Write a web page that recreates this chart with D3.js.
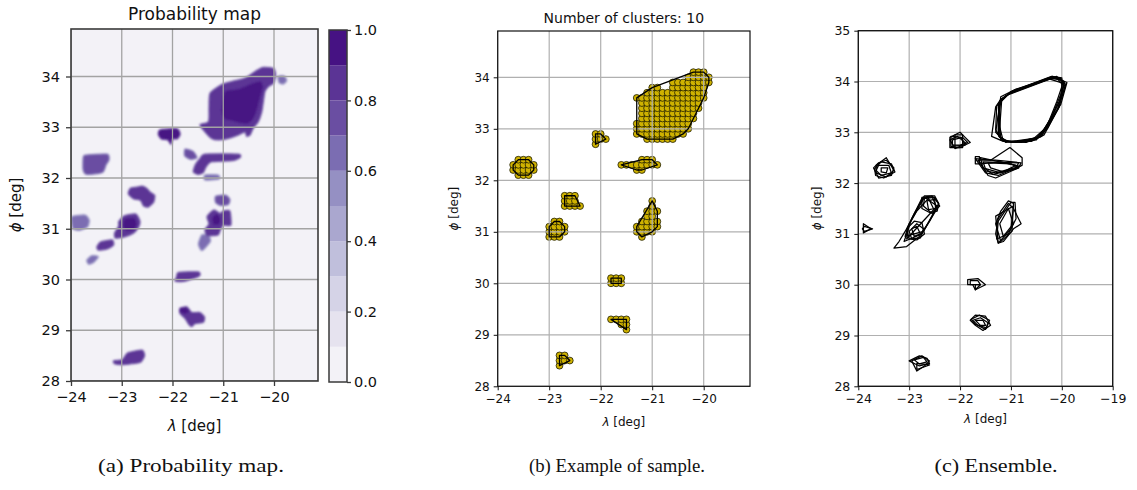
<!DOCTYPE html>
<html>
<head>
<meta charset="utf-8">
<script src="https://cdn.jsdelivr.net/npm/d3@7"></script>
<style>
  body { margin: 0; background: #fff; }
  svg { display: block; }
  text { font-family: "DejaVu Sans", sans-serif; }
</style>
</head>
<body>
<svg id="fig" width="1137" height="490"></svg>
<script>
// ---------- axis ticks ----------
const lonTicksAB = [-24, -23, -22, -21, -20];
const lonTicksC = [-24, -23, -22, -21, -20, -19];
const latTicksAB = [28, 29, 30, 31, 32, 33, 34];
const latTicksC = [28, 29, 30, 31, 32, 33, 34, 35];
const cbTicks = [0, 0.2, 0.4, 0.6, 0.8, 1.0];
const probLevels = [0, 0.1, 0.2, 0.3, 0.4, 0.5, 0.6, 0.7, 0.8, 0.9, 1.0];

// ---------- (a) probability regions: [lon, lat] rings with their probability ----------
const probRegions = [
  { p: 0.85, ring: [[-21.26,33.67],[-21.03,33.84],[-20.83,33.90],[-20.57,33.97],[-20.37,34.10],[-20.21,34.18],[-20.01,34.16],[-19.97,34.03],[-20.01,33.87],[-20.11,33.80],[-20.18,33.70],[-20.21,33.51],[-20.24,33.31],[-20.31,33.11],[-20.41,32.98],[-20.47,32.85],[-20.54,32.82],[-20.57,32.91],[-20.70,32.85],[-20.90,32.78],[-21.10,32.75],[-21.23,32.78],[-21.36,32.91],[-21.46,33.05],[-21.29,33.11],[-21.28,33.38]] },
  { p: 0.95, ring: [[-20.96,33.72],[-20.70,33.76],[-20.44,33.87],[-20.26,33.91],[-20.21,33.80],[-20.26,33.61],[-20.32,33.38],[-20.39,33.18],[-20.50,33.07],[-20.64,33.07],[-20.83,33.12],[-20.98,33.16],[-21.04,33.31],[-21.02,33.54]] },
  { p: 0.65, ring: [[-19.92,34.00],[-19.80,34.01],[-19.75,33.92],[-19.82,33.85],[-19.90,33.88]] },
  { p: 0.95, ring: [[-22.24,32.95],[-21.91,32.97],[-21.85,32.86],[-21.91,32.77],[-22.00,32.77],[-22.03,32.66],[-22.09,32.75],[-22.22,32.77],[-22.28,32.86]] },
  { p: 0.75, ring: [[-23.72,32.45],[-23.29,32.47],[-23.25,32.36],[-23.31,32.26],[-23.38,32.11],[-23.69,32.07],[-23.76,32.16],[-23.76,32.39]] },
  { p: 0.75, ring: [[-21.75,32.57],[-21.59,32.52],[-21.52,32.40],[-21.65,32.37],[-21.76,32.44]] },
  { p: 0.85, ring: [[-21.36,32.47],[-20.70,32.47],[-20.67,32.40],[-20.83,32.34],[-21.23,32.32],[-21.34,32.22],[-21.39,32.11],[-21.49,32.07],[-21.59,32.12],[-21.55,32.26],[-21.46,32.38]] },
  { p: 0.65, ring: [[-21.36,32.06],[-21.10,32.06],[-21.08,31.98],[-21.36,31.96]] },
  { p: 0.7, ring: [[-21.15,31.64],[-20.95,31.66],[-20.87,31.58],[-20.90,31.48],[-21.05,31.46],[-21.15,31.52]] },
  { p: 0.85, ring: [[-21.32,31.24],[-21.19,31.37],[-21.06,31.30],[-21.00,31.35],[-20.87,31.35],[-20.85,31.07],[-21.00,31.07],[-21.06,30.97],[-21.10,30.88],[-21.32,30.86],[-21.36,30.99],[-21.28,31.09]] },
  { p: 0.9, ring: [[-21.22,31.22],[-21.12,31.30],[-21.05,31.20],[-21.08,31.08],[-21.20,31.08]] },
  { p: 0.65, ring: [[-21.42,30.88],[-21.29,30.86],[-21.25,30.76],[-21.35,30.63],[-21.43,30.57],[-21.49,30.70]] },
  { p: 0.85, ring: [[-21.88,30.14],[-21.49,30.15],[-21.46,30.08],[-21.56,30.03],[-21.79,29.96],[-21.95,29.97],[-21.92,30.05]] },
  { p: 0.85, ring: [[-21.85,29.43],[-21.72,29.46],[-21.62,29.35],[-21.46,29.35],[-21.37,29.26],[-21.39,29.16],[-21.56,29.13],[-21.62,29.07],[-21.69,29.13],[-21.75,29.23],[-21.85,29.33]] },
  { p: 0.95, ring: [[-21.85,29.43],[-21.73,29.45],[-21.66,29.37],[-21.75,29.32],[-21.85,29.35]] },
  { p: 0.85, ring: [[-22.87,28.56],[-22.60,28.61],[-22.55,28.50],[-22.63,28.37],[-22.80,28.34],[-22.99,28.32],[-23.14,28.34],[-23.16,28.40],[-22.99,28.42],[-22.93,28.50]] },
  { p: 0.85, ring: [[-22.83,31.80],[-22.70,31.82],[-22.60,31.84],[-22.50,31.79],[-22.44,31.72],[-22.35,31.66],[-22.37,31.53],[-22.47,31.43],[-22.57,31.45],[-22.63,31.56],[-22.77,31.59],[-22.87,31.69]] },
  { p: 0.85, ring: [[-22.94,31.26],[-22.72,31.29],[-22.64,31.14],[-22.67,31.03],[-22.76,30.92],[-22.86,30.87],[-22.99,30.83],[-23.13,30.82],[-23.14,30.92],[-23.06,31.05],[-23.06,31.14]] },
  { p: 0.95, ring: [[-22.95,31.20],[-22.75,31.22],[-22.70,31.10],[-22.75,30.98],[-22.90,30.95],[-22.98,31.05]] },
  { p: 0.8, ring: [[-23.42,30.74],[-23.19,30.78],[-23.16,30.68],[-23.29,30.60],[-23.46,30.58],[-23.49,30.64]] },
  { p: 0.65, ring: [[-23.59,30.47],[-23.46,30.45],[-23.55,30.34],[-23.65,30.30],[-23.69,30.38]] },
  { p: 0.65, ring: [[-23.98,31.24],[-23.72,31.27],[-23.64,31.17],[-23.67,31.04],[-23.82,30.97],[-23.95,30.99],[-23.98,31.07]] }
];

// colours of the filled contour bands 0–0.1 … 0.9–1.0
const bandColors = ["#f3f2f7", "#e6e3ef", "#d5d3e7", "#c0bfdc", "#aaa7cf", "#9590c3", "#7b6db2", "#6a4ea2", "#5b3495", "#461283"];

// ---------- (b) one sample: grid cells (0.1°) per cluster as rows [lat, lonFrom, lonTo] ----------
const sampleClusters = [
  [[32.8,-21.1,-20.6],[32.9,-21.3,-20.4],[33.0,-21.3,-20.3],[33.1,-21.3,-20.3],[33.2,-21.2,-20.2],[33.3,-21.2,-20.2],[33.4,-21.2,-20.1],[33.5,-21.2,-20.1],[33.6,-21.3,-20.0],[33.7,-21.1,-20.0],[33.8,-21.0,-20.9],[33.8,-20.6,-20.0],[33.9,-20.6,-19.9],[34.0,-20.3,-19.9],[34.1,-20.2,-20.0]],
  [[32.7,-22.1,-22.1],[32.8,-22.1,-21.9],[32.9,-22.1,-22.0]],
  [[32.1,-23.6,-23.4],[32.2,-23.7,-23.3],[32.3,-23.7,-23.3],[32.4,-23.6,-23.4]],
  [[32.2,-21.3,-21.2],[32.3,-21.6,-20.9],[32.4,-21.2,-21.0]],
  [[31.5,-22.7,-22.4],[31.6,-22.7,-22.5],[31.7,-22.7,-22.5]],
  [[30.9,-23.0,-22.8],[31.0,-23.0,-22.7],[31.1,-23.0,-22.7],[31.2,-22.9,-22.8]],
  [[30.9,-21.2,-21.2],[31.0,-21.3,-21.0],[31.1,-21.3,-20.9],[31.2,-21.2,-20.9],[31.3,-21.1,-21.0],[31.4,-21.1,-20.9],[31.5,-21.0,-21.0],[31.6,-21.0,-21.0]],
  [[30.0,-21.8,-21.6],[30.1,-21.8,-21.6]],
  [[29.1,-21.5,-21.5],[29.2,-21.6,-21.5],[29.3,-21.8,-21.5]],
  [[28.4,-22.8,-22.8],[28.5,-22.8,-22.6],[28.6,-22.8,-22.7]]
];
const clusterCount = sampleClusters.length;

// ---------- (c) ensemble of cluster outlines, [lon, lat] rings ----------
const ensembleHulls = [
  // large north-east cluster
  [[-21.2,33.6],[-21.0,33.8],[-20.2,34.1],[-20.0,34.07],[-20.0,33.9],[-20.1,33.6],[-20.3,33.1],[-20.5,32.9],[-20.8,32.82],[-21.1,32.82],[-21.25,32.95],[-21.25,33.3]],
  [[-21.3,33.5],[-21.2,33.65],[-20.95,33.82],[-20.15,34.08],[-19.95,34.0],[-20.05,33.5],[-20.35,32.95],[-20.6,32.82],[-21.15,32.82],[-21.38,32.92]],
  [[-21.25,33.55],[-21.05,33.75],[-20.25,34.05],[-19.92,33.95],[-20.0,33.7],[-20.2,33.3],[-20.45,32.9],[-20.9,32.8],[-21.2,32.85]],
  [[-21.2,33.7],[-20.9,33.85],[-20.1,34.1],[-19.95,33.97],[-20.05,33.6],[-20.3,33.1],[-20.55,32.88],[-21.1,32.8],[-21.3,33.0]],
  [[-21.22,33.62],[-20.98,33.8],[-20.18,34.1],[-19.9,33.98],[-20.02,33.55],[-20.25,33.2],[-20.5,32.85],[-21.0,32.8],[-21.22,32.9]],
  [[-21.18,33.66],[-21.0,33.78],[-20.3,34.03],[-20.1,34.07],[-19.97,33.92],[-20.08,33.45],[-20.4,32.92],[-20.7,32.8],[-21.15,32.82],[-21.22,33.1]],
  [[-21.24,33.58],[-21.02,33.78],[-20.22,34.08],[-20.02,34.06],[-19.94,33.9],[-20.04,33.55],[-20.28,33.08],[-20.52,32.86],[-21.05,32.81],[-21.24,32.92]],
  [[-21.28,33.52],[-21.1,33.72],[-20.2,34.06],[-19.98,34.02],[-20.02,33.75],[-20.18,33.35],[-20.42,32.92],[-20.8,32.8],[-21.18,32.84],[-21.3,33.05]],
  // cluster near (-21.3, 32.3)
  [[-21.65,32.45],[-21.6,32.4],[-21.45,32.15],[-21.3,32.1],[-20.85,32.3],[-20.8,32.4],[-21.3,32.45]],
  [[-21.7,32.48],[-21.4,32.45],[-21.02,32.7],[-20.78,32.5],[-20.78,32.35],[-21.25,32.15],[-21.5,32.2]],
  [[-21.6,32.5],[-20.9,32.35],[-21.2,32.2],[-21.55,32.3]],
  [[-21.55,32.42],[-20.85,32.4],[-20.9,32.28],[-21.35,32.17],[-21.5,32.28]],
  [[-21.7,32.52],[-21.62,32.52],[-21.62,32.38],[-21.7,32.38]],
  [[-21.45,32.4],[-21.0,32.38],[-20.85,32.3],[-21.15,32.22],[-21.4,32.3]],
  [[-21.6,32.38],[-21.2,32.42],[-20.82,32.33],[-21.3,32.2],[-21.5,32.24]],
  // cluster near (-22, 32.8)
  [[-22.2,32.9],[-22.0,33.0],[-21.9,32.9],[-21.8,32.8],[-22.0,32.7],[-22.2,32.7]],
  [[-22.15,32.85],[-21.95,32.9],[-21.85,32.8],[-22.0,32.75],[-22.15,32.75]],
  [[-22.1,32.95],[-21.95,32.95],[-21.95,32.7],[-22.1,32.7]],
  [[-22.2,32.85],[-22.05,32.92],[-21.88,32.78],[-22.1,32.68]],
  [[-22.18,32.92],[-21.98,32.9],[-21.9,32.75],[-22.18,32.72]],
  // cluster near (-23.5, 32.3)
  [[-23.7,32.3],[-23.6,32.4],[-23.45,32.45],[-23.3,32.3],[-23.35,32.15],[-23.6,32.1]],
  [[-23.65,32.35],[-23.45,32.5],[-23.3,32.25],[-23.45,32.12],[-23.65,32.2]],
  [[-23.6,32.35],[-23.4,32.35],[-23.35,32.2],[-23.55,32.15],[-23.65,32.25]],
  [[-23.55,32.3],[-23.42,32.3],[-23.45,32.2],[-23.55,32.22]],
  [[-23.68,32.28],[-23.55,32.42],[-23.35,32.38],[-23.28,32.22],[-23.5,32.1],[-23.66,32.15]],
  // clusters near (-22.6, 31.6) and (-22.9, 31.0), sometimes merged
  [[-22.75,31.72],[-22.55,31.75],[-22.42,31.6],[-22.45,31.45],[-22.6,31.42],[-22.75,31.5]],
  [[-22.7,31.7],[-22.5,31.72],[-22.4,31.55],[-22.55,31.4],[-22.72,31.55]],
  [[-22.65,31.65],[-22.5,31.68],[-22.48,31.5],[-22.62,31.48]],
  [[-23.05,31.1],[-22.9,31.25],[-22.75,31.22],[-22.7,31.0],[-22.85,30.88],[-23.0,30.9]],
  [[-23.0,31.05],[-22.85,31.2],[-22.72,31.1],[-22.78,30.92],[-22.95,30.9]],
  [[-22.95,31.1],[-22.85,31.15],[-22.78,31.0],[-22.9,30.95]],
  [[-23.3,30.72],[-23.05,30.75],[-22.8,30.95],[-22.6,31.25],[-22.42,31.6],[-22.5,31.75],[-22.7,31.75],[-22.9,31.4],[-23.05,31.1],[-23.2,30.85]],
  [[-23.1,30.85],[-22.75,31.0],[-22.45,31.5],[-22.55,31.73],[-22.75,31.7],[-22.95,31.3]],
  [[-23.05,30.9],[-22.45,31.55],[-22.7,31.72],[-23.0,31.2]],
  [[-23.08,30.95],[-22.72,31.05],[-22.5,31.45],[-22.62,31.7],[-22.85,31.45],[-23.02,31.15]],
  // small western cluster
  [[-23.9,31.2],[-23.75,31.1],[-23.9,31.02]],
  [[-23.88,31.15],[-23.72,31.1],[-23.88,31.05],[-23.92,31.1]],
  // cluster near (-21.1, 31.2)
  [[-21.25,30.82],[-21.15,30.85],[-20.95,31.1],[-20.8,31.2],[-20.95,31.5],[-21.05,31.6],[-21.25,31.3],[-21.3,31.0]],
  [[-21.2,30.85],[-20.98,31.05],[-20.95,31.6],[-21.05,31.65],[-21.2,31.45],[-21.3,31.2]],
  [[-21.15,30.95],[-20.95,31.2],[-21.05,31.5],[-21.22,31.2]],
  [[-21.25,30.82],[-21.0,31.1],[-20.95,31.55],[-21.3,31.35]],
  [[-21.28,30.9],[-21.05,31.0],[-20.9,31.3],[-20.92,31.62],[-21.0,31.62],[-21.25,31.25]],
  // cluster near (-21.7, 30.05)
  [[-21.85,30.1],[-21.65,30.12],[-21.5,30.0],[-21.7,29.9],[-21.75,30.0],[-21.85,30.0]],
  [[-21.8,30.08],[-21.65,30.08],[-21.6,30.0],[-21.8,30.0]],
  [[-21.7,30.0],[-21.6,30.0],[-21.7,29.9]],
  // cluster near (-21.6, 29.3)
  [[-21.8,29.3],[-21.7,29.4],[-21.5,29.38],[-21.4,29.2],[-21.55,29.1],[-21.7,29.2]],
  [[-21.75,29.3],[-21.6,29.35],[-21.45,29.25],[-21.5,29.12],[-21.65,29.2]],
  [[-21.7,29.3],[-21.55,29.3],[-21.5,29.2],[-21.6,29.2]],
  [[-21.78,29.32],[-21.62,29.4],[-21.42,29.3],[-21.48,29.15],[-21.7,29.22]],
  // cluster near (-22.8, 28.5)
  [[-23.0,28.5],[-22.8,28.6],[-22.65,28.55],[-22.6,28.45],[-22.8,28.4],[-22.9,28.45]],
  [[-22.95,28.5],[-22.75,28.6],[-22.6,28.5],[-22.7,28.4],[-22.85,28.3]],
  [[-22.85,28.45],[-22.6,28.42],[-22.85,28.33]],
  [[-22.9,28.52],[-22.72,28.57],[-22.65,28.48],[-22.8,28.44]]
];

// ---------- drawing ----------
const svg = d3.select("#fig");
const fmtInt = d3.format("d");
const fmtCb = d3.format(".1f");

function styleAxis(sel, color, width, fontSize) {
  sel.select(".domain").remove();
  sel.selectAll(".tick line").attr("stroke", color).attr("stroke-width", width);
  sel.selectAll(".tick text").attr("fill", "#111").style("font-size", fontSize + "px")
     .style("font-family", "'DejaVu Sans', sans-serif");
}

function gridLines(g, x, y, xt, yt, box, color, width) {
  const gg = g.append("g");
  gg.selectAll("line.gx").data(xt).join("line")
    .attr("x1", d => x(d)).attr("x2", d => x(d)).attr("y1", box.t).attr("y2", box.b)
    .attr("stroke", color).attr("stroke-width", width);
  gg.selectAll("line.gy").data(yt).join("line")
    .attr("y1", d => y(d)).attr("y2", d => y(d)).attr("x1", box.l).attr("x2", box.r)
    .attr("stroke", color).attr("stroke-width", width);
}

function axisLabels(g, box, xLabelY, yLabelX, fs) {
  const xl = g.append("text").attr("x", (box.l + box.r) / 2).attr("y", xLabelY)
    .attr("text-anchor", "middle").style("font-size", fs + "px").attr("fill", "#111");
  xl.append("tspan").text("λ").style("font-style", "italic");
  xl.append("tspan").text(" [deg]");
  const cy = (box.t + box.b) / 2;
  const yl = g.append("text").attr("transform", `translate(${yLabelX},${cy}) rotate(-90)`)
    .attr("text-anchor", "middle").style("font-size", fs + "px").attr("fill", "#111");
  yl.append("tspan").text("ϕ").style("font-style", "italic");
  yl.append("tspan").text(" [deg]");
}

const defs = svg.append("defs");
defs.append("filter").attr("id", "soft").attr("x", "-10%").attr("y", "-10%").attr("width", "120%").attr("height", "120%")
  .append("feGaussianBlur").attr("stdDeviation", 0.9);

// ===== (a) Probability map =====
{
  const box = { l: 71, r: 318, t: 29, b: 381 };
  const x = d3.scaleLinear().domain([-24, -20]).range([71, 274]);
  const y = d3.scaleLinear().domain([28, 34]).range([381, 76.5]);
  const g = svg.append("g");
  defs.append("clipPath").attr("id", "clipA").append("rect")
    .attr("x", box.l).attr("y", box.t).attr("width", box.r - box.l).attr("height", box.b - box.t);

  g.append("rect").attr("x", box.l).attr("y", box.t).attr("width", box.r - box.l).attr("height", box.b - box.t)
    .attr("fill", bandColors[0]);

  const band = p => bandColors[Math.min(9, Math.floor(p * 10))];
  const blob = d3.line().x(d => x(d[0])).y(d => y(d[1])).curve(d3.curveCardinalClosed.tension(0.4));
  g.append("g").attr("clip-path", "url(#clipA)").attr("filter", "url(#soft)")
    .selectAll("path").data(probRegions.slice().sort((a, b) => a.p - b.p)).join("path")
    .attr("d", d => blob(d.ring)).attr("fill", d => band(d.p))
    .attr("stroke", d => band(d.p - 0.1)).attr("stroke-width", 1.2);

  gridLines(g.append("g").attr("clip-path", "url(#clipA)"), x, y, lonTicksAB, latTicksAB, box, "#a3a3a3", 1.3);

  g.append("rect").attr("x", box.l).attr("y", box.t).attr("width", box.r - box.l).attr("height", box.b - box.t)
    .attr("fill", "none").attr("stroke", "#3a3a3a").attr("stroke-width", 1.6);

  g.append("g").attr("transform", `translate(0,${box.b})`)
    .call(d3.axisBottom(x).tickValues(lonTicksAB).tickFormat(fmtInt).tickSize(5).tickPadding(6))
    .call(s => styleAxis(s, "#3a3a3a", 1.3, 14.5));
  g.append("g").attr("transform", `translate(${box.l},0)`)
    .call(d3.axisLeft(y).tickValues(latTicksAB).tickFormat(fmtInt).tickSize(5).tickPadding(6))
    .call(s => styleAxis(s, "#3a3a3a", 1.3, 14.5));

  g.append("text").attr("x", (box.l + box.r) / 2).attr("y", 20).attr("text-anchor", "middle")
    .style("font-size", "17px").attr("fill", "#111").text("Probability map");
  axisLabels(g, box, 431, 21, 15);

  // colour bar
  const cb = { l: 329, r: 347, t: 30, b: 382 };
  const yc = d3.scaleLinear().domain([0, 1]).range([cb.b, cb.t]);
  g.append("g").selectAll("rect").data(d3.range(probLevels.length - 1)).join("rect")
    .attr("x", cb.l).attr("width", cb.r - cb.l)
    .attr("y", i => yc(probLevels[i + 1])).attr("height", i => yc(probLevels[i]) - yc(probLevels[i + 1]))
    .attr("fill", i => bandColors[i]);
  g.append("rect").attr("x", cb.l).attr("y", cb.t).attr("width", cb.r - cb.l).attr("height", cb.b - cb.t)
    .attr("fill", "none").attr("stroke", "#3a3a3a").attr("stroke-width", 1.5);
  g.append("g").attr("transform", `translate(${cb.r},0)`)
    .call(d3.axisRight(yc).tickValues(cbTicks).tickFormat(fmtCb).tickSize(4).tickPadding(3))
    .call(s => styleAxis(s, "#3a3a3a", 1.3, 14.5));
}

// ===== (b) Example of sample =====
{
  const box = { l: 497.7, r: 750, t: 31, b: 386.3 };
  const x = d3.scaleLinear().domain([-24, -20]).range([497.7, 703.7]);
  const y = d3.scaleLinear().domain([28, 34]).range([386.3, 77.3]);
  const g = svg.append("g");

  const clusters = sampleClusters.map(rows => rows.flatMap(([lat, a, b]) =>
    d3.range(Math.round(a * 10), Math.round(b * 10) + 1).map(k => [k / 10, lat])));

  const pts = clusters.flat();
  g.append("g").selectAll("circle").data(pts).join("circle")
    .attr("cx", d => x(d[0])).attr("cy", d => y(d[1])).attr("r", 3.4)
    .attr("fill", "#cfb200").attr("stroke", "#151500").attr("stroke-width", 0.9).attr("stroke-opacity", 0.85);

  gridLines(g, x, y, lonTicksAB, latTicksAB, box, "#b0b0b0", 1.2);

  g.append("g").selectAll("path").data(clusters).join("path")
    .attr("d", c => {
      const hull = d3.polygonHull(c.map(d => [x(d[0]), y(d[1])]));
      return hull ? "M" + hull.join("L") + "Z" : null;
    })
    .attr("fill", "none").attr("stroke", "#000").attr("stroke-width", 1.3).attr("stroke-linejoin", "round");

  g.append("rect").attr("x", box.l).attr("y", box.t).attr("width", box.r - box.l).attr("height", box.b - box.t)
    .attr("fill", "none").attr("stroke", "#111").attr("stroke-width", 1.2);

  g.append("g").attr("transform", `translate(0,${box.b})`)
    .call(d3.axisBottom(x).tickValues(lonTicksAB).tickFormat(fmtInt).tickSize(4).tickPadding(4))
    .call(s => styleAxis(s, "#111", 1, 12));
  g.append("g").attr("transform", `translate(${box.l},0)`)
    .call(d3.axisLeft(y).tickValues(latTicksAB).tickFormat(fmtInt).tickSize(4).tickPadding(4))
    .call(s => styleAxis(s, "#111", 1, 12));

  g.append("text").attr("x", (box.l + box.r) / 2).attr("y", 23).attr("text-anchor", "middle")
    .style("font-size", "14px").attr("fill", "#111").text("Number of clusters: " + clusterCount);
  axisLabels(g, box, 426, 458, 12);
}

// ===== (c) Ensemble =====
{
  const box = { l: 858.3, r: 1112.7, t: 30.7, b: 386.3 };
  const x = d3.scaleLinear().domain([-24, -19]).range([858.3, 1112.7]);
  const y = d3.scaleLinear().domain([28, 35]).range([386.3, 30.7]);
  const g = svg.append("g");

  gridLines(g, x, y, lonTicksC, latTicksC, box, "#b0b0b0", 1.2);

  const ring = d3.line().x(d => x(d[0])).y(d => y(d[1])).curve(d3.curveLinearClosed);
  g.append("g").selectAll("path").data(ensembleHulls).join("path")
    .attr("d", ring).attr("fill", "none").attr("stroke", "#000").attr("stroke-width", 1.25)
    .attr("stroke-linejoin", "round");

  g.append("rect").attr("x", box.l).attr("y", box.t).attr("width", box.r - box.l).attr("height", box.b - box.t)
    .attr("fill", "none").attr("stroke", "#111").attr("stroke-width", 1.3);

  g.append("g").attr("transform", `translate(0,${box.b})`)
    .call(d3.axisBottom(x).tickValues(lonTicksC).tickFormat(fmtInt).tickSize(4).tickPadding(4))
    .call(s => styleAxis(s, "#111", 1, 12.5));
  g.append("g").attr("transform", `translate(${box.l},0)`)
    .call(d3.axisLeft(y).tickValues(latTicksC).tickFormat(fmtInt).tickSize(4).tickPadding(4))
    .call(s => styleAxis(s, "#111", 1, 12.5));

  axisLabels(g, box, 423, 821, 12);
}

// ===== sub-figure captions =====
const captions = [
  { x: 191, text: "(a) Probability map.", w: 186 },
  { x: 617, text: "(b) Example of sample.", w: 176 },
  { x: 996, text: "(c) Ensemble.", w: 123 }
];
svg.append("g").selectAll("text").data(captions).join("text")
  .attr("x", d => d.x - d.w / 2).attr("y", 472)
  .attr("textLength", d => d.w).attr("lengthAdjust", "spacingAndGlyphs")
  .style("font-family", "'Liberation Serif', serif").style("font-size", "19px").attr("fill", "#111")
  .text(d => d.text);
</script>
</body>
</html>
